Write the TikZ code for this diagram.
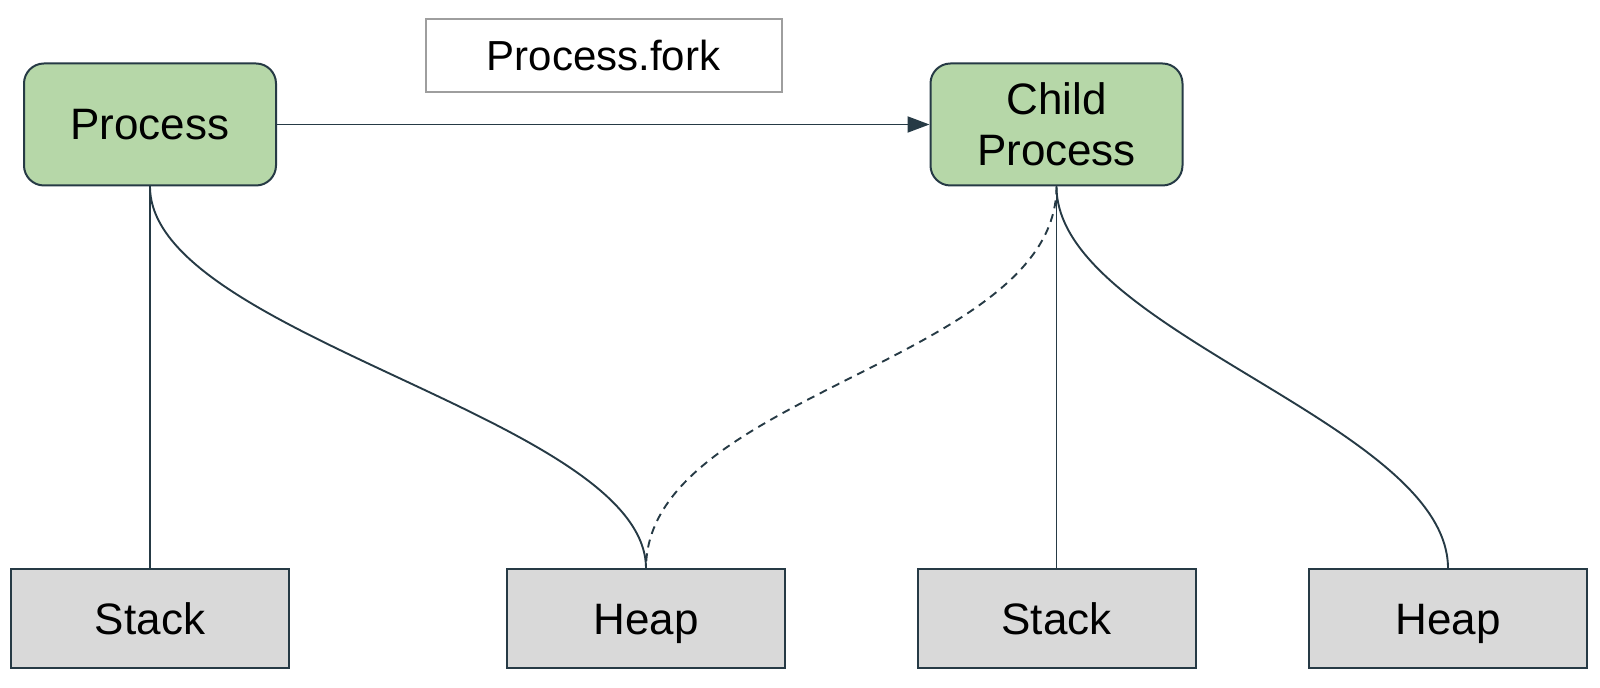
\documentclass[tikz,border=0pt]{standalone}
\usepackage{fontspec}
\setmainfont{Liberation Sans}
\usetikzlibrary{arrows.meta}
\definecolor{procgreen}{HTML}{B6D7A8}
\definecolor{memgray}{HTML}{D9D9D9}
\definecolor{edgeline}{HTML}{263A45}
\definecolor{labelgray}{HTML}{9E9E9E}

\begin{document}
\begin{tikzpicture}[x=0.5pt,y=-0.5pt,>={Triangle[length=11pt,width=8pt]},
  every node/.style={font=\fontsize{22}{25.5}\selectfont,inner sep=0pt},
  proc/.style={draw=edgeline,line width=1pt,fill=procgreen,rounded corners=10pt,
    minimum width=126pt,minimum height=61pt,align=center},
  mem/.style={draw=edgeline,line width=1pt,fill=memgray,minimum width=139pt,
    minimum height=49.5pt,text height=16pt,text depth=0pt},
  link/.style={draw=edgeline,line width=0.95pt}]
  \useasboundingbox (0,0) rectangle (1600,688);

  \node[proc] (P) at (150,124.5) {Process};
  \node[proc] (C) at (1056.5,124.5) {Child\\Process};
  \node[draw=labelgray,line width=1pt,minimum width=178pt,minimum height=36.5pt,
    text height=15pt,text depth=0pt,font=\fontsize{21}{25}\selectfont] (F) at (603.5,56) {Process.fork};

  \node[mem] (S1) at (150,619) {Stack};
  \node[mem] (H1) at (646,619) {Heap};
  \node[mem] (S2) at (1056.5,619) {Stack};
  \node[mem] (H2) at (1448,619) {Heap};

  \draw[link,->] (P) -- (C);
  \draw[link] (P.south) -- (S1.north);
  \draw[link] (P.south) .. controls +(0,150) and +(0,-150) .. (H1.north);
  \draw[link,dash pattern=on 4pt off 3pt] (C.south) .. controls +(0,175) and +(0,-175) .. (H1.north);
  \draw[link] (C.south) -- (S2.north);
  \draw[link] (C.south) .. controls +(0,145) and +(0,-145) .. (H2.north);
\end{tikzpicture}
\end{document}
